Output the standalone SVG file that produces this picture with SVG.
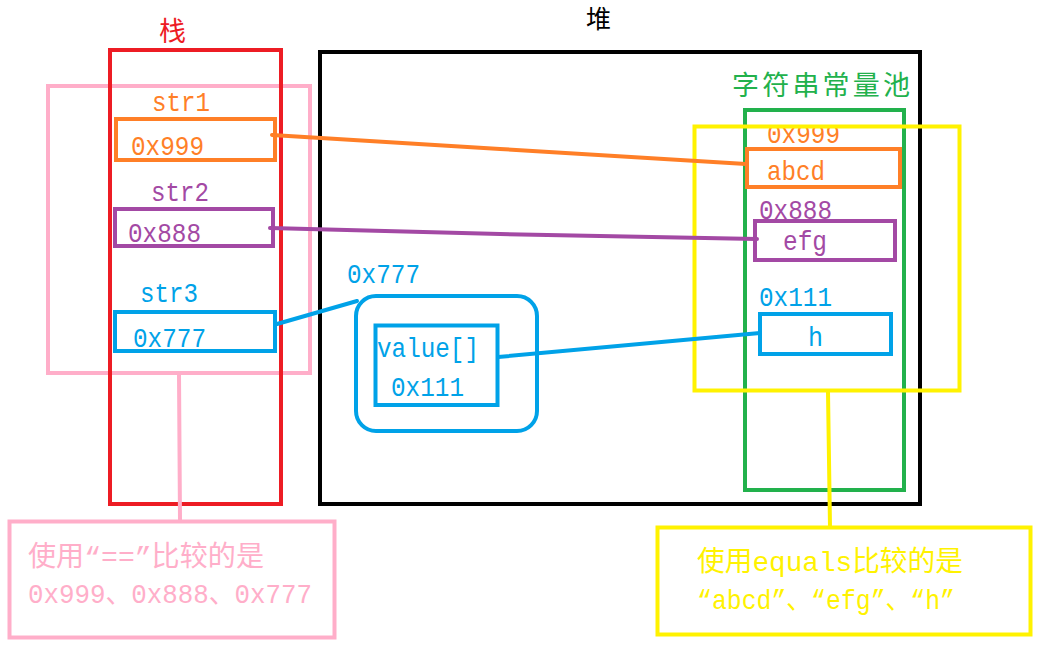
<svg xmlns="http://www.w3.org/2000/svg" width="1040" height="652" viewBox="0 0 1040 652">
<style>
  .box { fill: none; stroke-width: 4; }
  .t { font-family: "Liberation Mono", "Noto Sans CJK SC", monospace; font-size: 28px; }
  .cjk { font-family: "Noto Sans CJK SC", sans-serif; }
  .red { stroke: #ed1c24; } .tred { fill: #ed1c24; }
  .org { stroke: #ff7f27; } .torg { fill: #ff7f27; }
  .pur { stroke: #a349a4; } .tpur { fill: #a349a4; }
  .blu { stroke: #00a2e8; } .tblu { fill: #00a2e8; }
  .grn { stroke: #22b14c; } .tgrn { fill: #22b14c; }
  .yel { stroke: #fff200; } .tyel { fill: #fff200; }
  .pnk { stroke: #ffaec9; } .tpnk { fill: #ffaec9; }
  .blk { stroke: #000000; }
  .conn path { fill: none; stroke-width: 4; stroke-linecap: round; }
</style>
<rect width="1040" height="652" fill="#ffffff"/>

<g id="stack-scope">
  <rect class="box pnk" x="48" y="86" width="262" height="287"/>
</g>
<g id="stack">
  <rect class="box red" x="110" y="50" width="171" height="454"/>
  <text class="cjk tred" x="159" y="41" font-size="27">栈</text>
</g>
<g id="heap">
  <rect class="box blk" x="320" y="52" width="600" height="452" stroke-width="4.5"/>
  <text class="cjk" x="586" y="28" font-size="25" fill="#000">堆</text>
</g>
<g id="string-pool">
  <rect class="box grn" x="745" y="110" width="159" height="380"/>
  <text class="cjk tgrn" x="732" y="95" font-size="27" textLength="178" lengthAdjust="spacing">字符串常量池</text>
</g>

<g id="str1">
  <text class="t torg" x="152" y="111" textLength="58" lengthAdjust="spacingAndGlyphs">str1</text>
  <rect class="box org" x="116" y="119" width="159" height="41"/>
  <text class="t torg" x="131" y="155" textLength="73" lengthAdjust="spacingAndGlyphs">0x999</text>
</g>
<g id="str2">
  <text class="t tpur" x="151" y="201" textLength="58" lengthAdjust="spacingAndGlyphs">str2</text>
  <rect class="box pur" x="115" y="209" width="158" height="37"/>
  <text class="t tpur" x="128" y="242" textLength="73" lengthAdjust="spacingAndGlyphs">0x888</text>
</g>
<g id="str3">
  <text class="t tblu" x="140" y="302" textLength="58" lengthAdjust="spacingAndGlyphs">str3</text>
  <rect class="box blu" x="115" y="312" width="160" height="39"/>
  <text class="t tblu" x="133" y="347" textLength="73" lengthAdjust="spacingAndGlyphs">0x777</text>
</g>

<g id="string-object">
  <text class="t tblu" x="347" y="283" textLength="73" lengthAdjust="spacingAndGlyphs">0x777</text>
  <rect class="box blu" x="356" y="296" width="181" height="135" rx="20"/>
  <rect class="box blu" x="375.5" y="325.5" width="122" height="79.5"/>
  <text class="t tblu" x="377" y="357" textLength="102" lengthAdjust="spacingAndGlyphs">value[]</text>
  <text class="t tblu" x="391" y="396" textLength="73" lengthAdjust="spacingAndGlyphs">0x111</text>
</g>

<g id="abcd">
  <text class="t torg" x="767" y="143" textLength="73" lengthAdjust="spacingAndGlyphs">0x999</text>
  <rect class="box org" x="747" y="149" width="153" height="38"/>
  <text class="t torg" x="767" y="180" textLength="58" lengthAdjust="spacingAndGlyphs">abcd</text>
</g>
<g id="efg">
  <text class="t tpur" x="759" y="219" textLength="73" lengthAdjust="spacingAndGlyphs">0x888</text>
  <rect class="box pur" x="755" y="221" width="140" height="39"/>
  <text class="t tpur" x="783" y="250" textLength="44" lengthAdjust="spacingAndGlyphs">efg</text>
</g>
<g id="h">
  <text class="t tblu" x="759" y="306" textLength="73" lengthAdjust="spacingAndGlyphs">0x111</text>
  <rect class="box blu" x="760" y="314" width="131" height="40"/>
  <text class="t tblu" x="808" y="346" textLength="15" lengthAdjust="spacingAndGlyphs">h</text>
</g>

<g id="pool-scope">
  <rect class="box yel" x="694.5" y="126.5" width="265" height="264" stroke-width="4.5"/>
</g>

<g id="connectors" class="conn">
  <path class="org" d="M272 135 L500 149 L746 164"/>
  <path class="pur" d="M270 228 L500 234 L757 239"/>
  <path class="blu" d="M277 324 L357 301"/>
  <path class="blu" d="M498 357 L760 333"/>
  <path class="pnk" d="M179 375 L180 520"/>
  <path class="yel" d="M828 392 L830 527"/>
</g>

<g id="note-eq">
  <rect class="box pnk" x="9.5" y="521.5" width="325" height="116" stroke-width="5"/>
  <text class="t tpnk" x="28" y="566" textLength="236" lengthAdjust="spacingAndGlyphs">使用“==”比较的是</text>
  <text class="t tpnk" x="28" y="603" textLength="284" lengthAdjust="spacingAndGlyphs">0x999、0x888、0x777</text>
</g>
<g id="note-equals">
  <rect class="box yel" x="657.5" y="527.5" width="373" height="107" stroke-width="5"/>
  <text class="t tyel" x="697" y="571" textLength="266" lengthAdjust="spacingAndGlyphs">使用equals比较的是</text>
  <text class="t tyel" x="697" y="609" textLength="258" lengthAdjust="spacingAndGlyphs">“abcd”、“efg”、“h”</text>
</g>
</svg>
